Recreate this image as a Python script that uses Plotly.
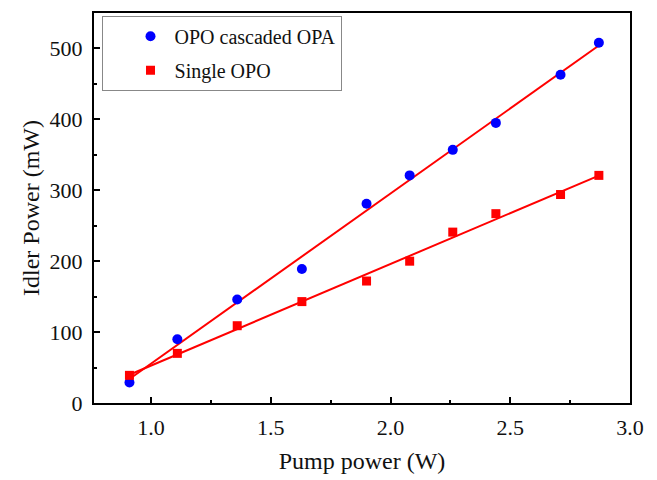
import numpy as np
import plotly.graph_objects as go

pump_power = [0.91, 1.11, 1.36, 1.63, 1.90, 2.08, 2.26, 2.44, 2.71, 2.87]
opa_idler = [29, 90, 146, 189, 281, 321, 357, 395, 463, 508]
single_idler = [39, 70, 109, 143, 172, 200, 241, 267, 294, 321]

x_ticks = [1.0, 1.5, 2.0, 2.5, 3.0]
y_ticks = [0, 100, 200, 300, 400, 500]

FONT = "Times New Roman, Liberation Serif, DejaVu Serif, serif"
TXT = "#111111"

xs = np.array(pump_power)
fig = go.Figure()

for ys in (opa_idler, single_idler):
    k, b = np.polyfit(xs, np.array(ys), 1)
    xf = np.array([xs.min(), xs.max()])
    fig.add_trace(go.Scatter(x=xf, y=k * xf + b, mode="lines",
                             line=dict(color="#ff0000", width=2),
                             showlegend=False, hoverinfo="skip"))

fig.add_trace(go.Scatter(x=pump_power, y=opa_idler, mode="markers",
                         name="OPO cascaded OPA", legendgroup="a",
                         marker=dict(symbol="circle", size=10, color="#0000ff")))
fig.add_trace(go.Scatter(x=pump_power, y=single_idler, mode="markers",
                         name="Single OPO", legendgroup="b",
                         marker=dict(symbol="square", size=9, color="#ff0000")))

axis_common = dict(showline=True, linecolor="black", linewidth=2, mirror=True,
                   ticks="inside", ticklen=6, tickwidth=1.5, tickcolor="black",
                   showgrid=False, zeroline=False,
                   tickfont=dict(family=FONT, size=22, color=TXT))

fig.update_xaxes(range=[0.762, 3.0], tickvals=x_ticks, ticktext=[f"{v:.1f}" for v in x_ticks],
                 ticklabelstandoff=4,
                 minor=dict(ticks="inside", ticklen=3, tickwidth=1.5, tickcolor="black", dtick=0.25, tick0=0.75),
                 title=dict(text="Pump power (W)", font=dict(family=FONT, size=24, color=TXT), standoff=13),
                 **axis_common)
fig.update_yaxes(range=[0, 550], tickvals=y_ticks,
                 ticklabelstandoff=5,
                 minor=dict(ticks="inside", ticklen=3, tickwidth=1.5, tickcolor="black", dtick=50, tick0=0),
                 title=dict(text="Idler Power (mW)", font=dict(family=FONT, size=24, color=TXT), standoff=3),
                 **axis_common)

fig.update_layout(
    width=649, height=472,
    margin=dict(l=86, r=27, t=3, b=77),
    plot_bgcolor="white", paper_bgcolor="white",
    legend=dict(x=0.014, y=0.993, xanchor="left", yanchor="top",
                bgcolor="white", bordercolor="#888888", borderwidth=1,
                font=dict(family=FONT, size=20, color=TXT),
                traceorder="grouped", tracegroupgap=5,
                indentation=24, itemwidth=38),
)

fig.write_html("out.html")
